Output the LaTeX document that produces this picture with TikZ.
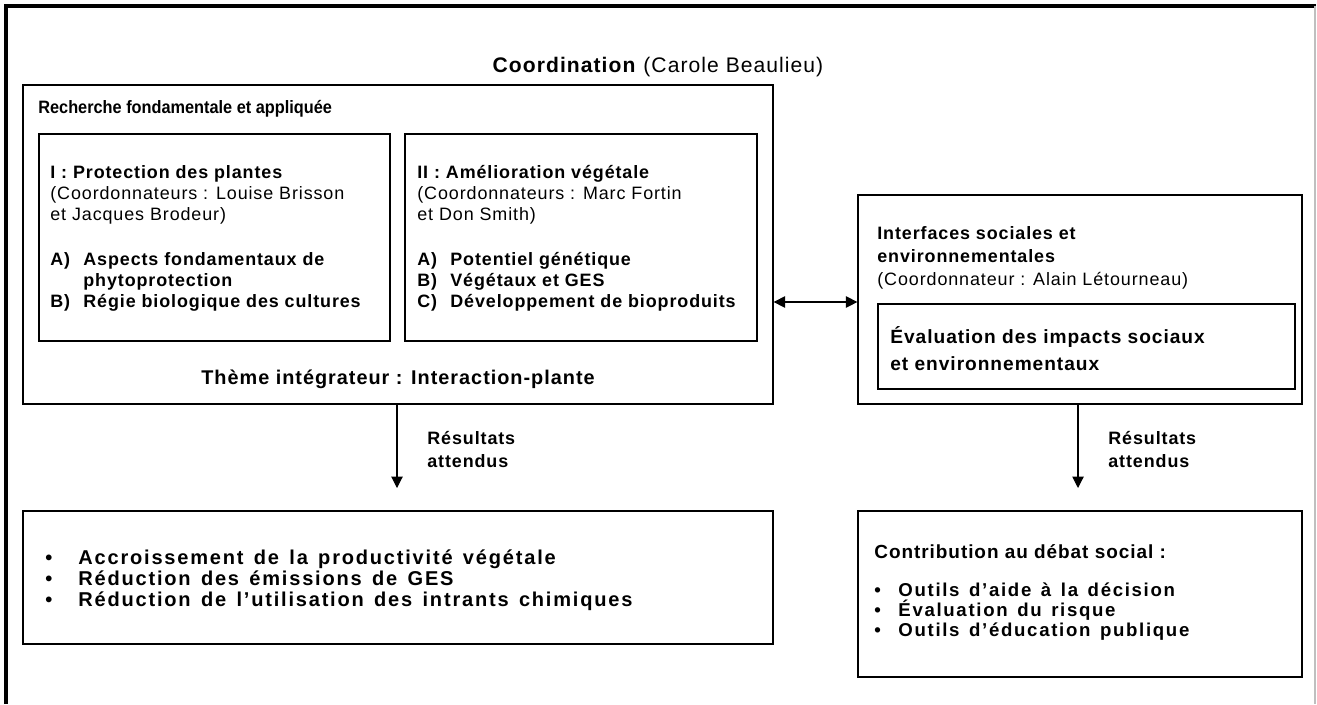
\documentclass[tikz,border=0pt]{standalone}
\usepackage{fontspec}
\setmainfont{Liberation Sans}[LetterSpace=5]
\newfontfamily\condfont{Liberation Sans}[FakeStretch=0.91]
\newfontfamily\espace{Liberation Sans}[LetterSpace=9,WordSpace=1.4]
\usetikzlibrary{arrows.meta,fit}

% retraits des listes
\newcommand{\lettre}[1]{\makebox[18.8pt][l]{#1}}
\newcommand{\puce}{\makebox[18.8pt][l]{\textbullet}}
\newcommand{\pucec}{\makebox[13.7pt][l]{\textbullet}}

\begin{document}
\begin{tikzpicture}[
    x=0.02cm,
    y=-0.02cm,
    line join=miter,
    cadre/.style={
        line width=2.2pt
    },
    box/.style={
        draw,
        line width=0.7pt,
        inner sep=0pt
    },
    fleche/.style={
        line width=0.6pt,
        -{Triangle[length=6.5pt,width=6.5pt]}
    },
    double/.style={
        line width=0.6pt,
        {Triangle[length=6.5pt,width=6.5pt]}-{Triangle[length=6.5pt,width=6.5pt]}
    },
    texte/.style={
        anchor=north west,
        inner sep=0pt,
        align=left,
        font=\fontsize{10.2pt}{12pt}\selectfont
    },
    gras/.style={
        texte,
        font=\fontsize{10.2pt}{12pt}\selectfont\bfseries
    },
    large/.style={
        texte,
        font=\fontsize{11.4pt}{12pt}\selectfont\espace\bfseries
    }
]

\useasboundingbox (0,0) rectangle (1317,704);

% =================================================
% Cadre général
% =================================================

\draw[cadre] (6,704) -- (6,6) -- (1316,6);
\draw[gray!50, line width=0.6pt] (1315,6) -- (1315,704);

\node[anchor=north, inner sep=0pt, font=\fontsize{12pt}{14pt}\selectfont] (coordination) at (658,57)
    {\textbf{Coordination} (Carole Beaulieu)};

% =================================================
% Boîtes
% =================================================

% Recherche fondamentale et appliquée
\coordinate (rech-a) at (23,85);
\coordinate (rech-b) at (773,404);
\node[box, fit=(rech-a)(rech-b)] (recherche) {};

% Axes I et II
\coordinate (axe1-a) at (39,134);
\coordinate (axe1-b) at (390,341);
\node[box, fit=(axe1-a)(axe1-b)] (axe1) {};

\coordinate (axe2-a) at (405,134);
\coordinate (axe2-b) at (757,341);
\node[box, fit=(axe2-a)(axe2-b)] (axe2) {};

% Interfaces sociales et environnementales
\coordinate (inter-a) at (858,195);
\coordinate (inter-b) at (1302,404);
\node[box, fit=(inter-a)(inter-b)] (interfaces) {};

\coordinate (eval-a) at (878,304);
\coordinate (eval-b) at (1295,389);
\node[box, fit=(eval-a)(eval-b)] (evaluation) {};

% Résultats
\coordinate (res-a) at (23,511);
\coordinate (res-b) at (773,644);
\node[box, fit=(res-a)(res-b)] (resultats) {};

\coordinate (debat-a) at (858,511);
\coordinate (debat-b) at (1302,677);
\node[box, fit=(debat-a)(debat-b)] (debat) {};

% =================================================
% Textes
% =================================================

\node[texte, font=\fontsize{10.2pt}{12pt}\selectfont\condfont\bfseries] (titre-rech) at (38,100)
    {Recherche fondamentale et appliquée};

\node[texte] (titre-axe1) at (50,165)
    {\textbf{I : Protection des plantes}\\
     (Coordonnateurs : Louise Brisson\\
     et Jacques Brodeur)};
\node[gras] (liste-axe1) at (50,252)
    {\lettre{A)}Aspects fondamentaux de\\
     \lettre{}phytoprotection\\
     \lettre{B)}Régie biologique des cultures};

\node[texte] (titre-axe2) at (417,165)
    {\textbf{II : Amélioration végétale}\\
     (Coordonnateurs : Marc Fortin\\
     et Don Smith)};
\node[gras] (liste-axe2) at (417,252)
    {\lettre{A)}Potentiel génétique\\
     \lettre{B)}Végétaux et GES\\
     \lettre{C)}Développement de bioproduits};

\node[gras, anchor=north, font=\fontsize{11.3pt}{13pt}\selectfont\bfseries] (theme) at (398,370)
    {Thème intégrateur : Interaction-plante};

\node[texte, font=\fontsize{10.2pt}{13pt}\selectfont] (titre-inter) at (877,226)
    {\textbf{Interfaces sociales et}\\
     \textbf{environnementales}\\
     (Coordonnateur : Alain Létourneau)};

\node[gras, font=\fontsize{10.9pt}{15.4pt}\selectfont\bfseries] (texte-eval) at (890,326)
    {Évaluation des impacts sociaux\\
     et environnementaux};

\node[large] (liste-res) at (45,549)
    {\puce Accroissement de la productivité végétale\\
     \puce Réduction des émissions de GES\\
     \puce Réduction de l’utilisation des intrants chimiques};

\node[gras, font=\fontsize{10.8pt}{12pt}\selectfont\bfseries] (titre-debat) at (874,544)
    {Contribution au débat social :};
\node[large, font=\fontsize{10.6pt}{11.4pt}\selectfont\espace\bfseries] (liste-debat) at (874,582)
    {\pucec Outils d’aide à la décision\\
     \pucec Évaluation du risque\\
     \pucec Outils d’éducation publique};

% =================================================
% Flèches
% =================================================

\coordinate (niveau) at (0,302);
\draw[double] (recherche.east |- niveau) -- (interfaces.west |- niveau);

\coordinate (pointe-g) at (397,488);
\coordinate (pointe-d) at (1078,488);
\draw[fleche] (recherche.south -| pointe-g) -- (pointe-g);
\draw[fleche] (interfaces.south -| pointe-d) -- (pointe-d);

\node[gras, font=\fontsize{10.2pt}{13pt}\selectfont\bfseries] (attendus-g) at (427,431) {Résultats\\attendus};
\node[gras, font=\fontsize{10.2pt}{13pt}\selectfont\bfseries] (attendus-d) at (1108,431) {Résultats\\attendus};

\end{tikzpicture}
\end{document}
